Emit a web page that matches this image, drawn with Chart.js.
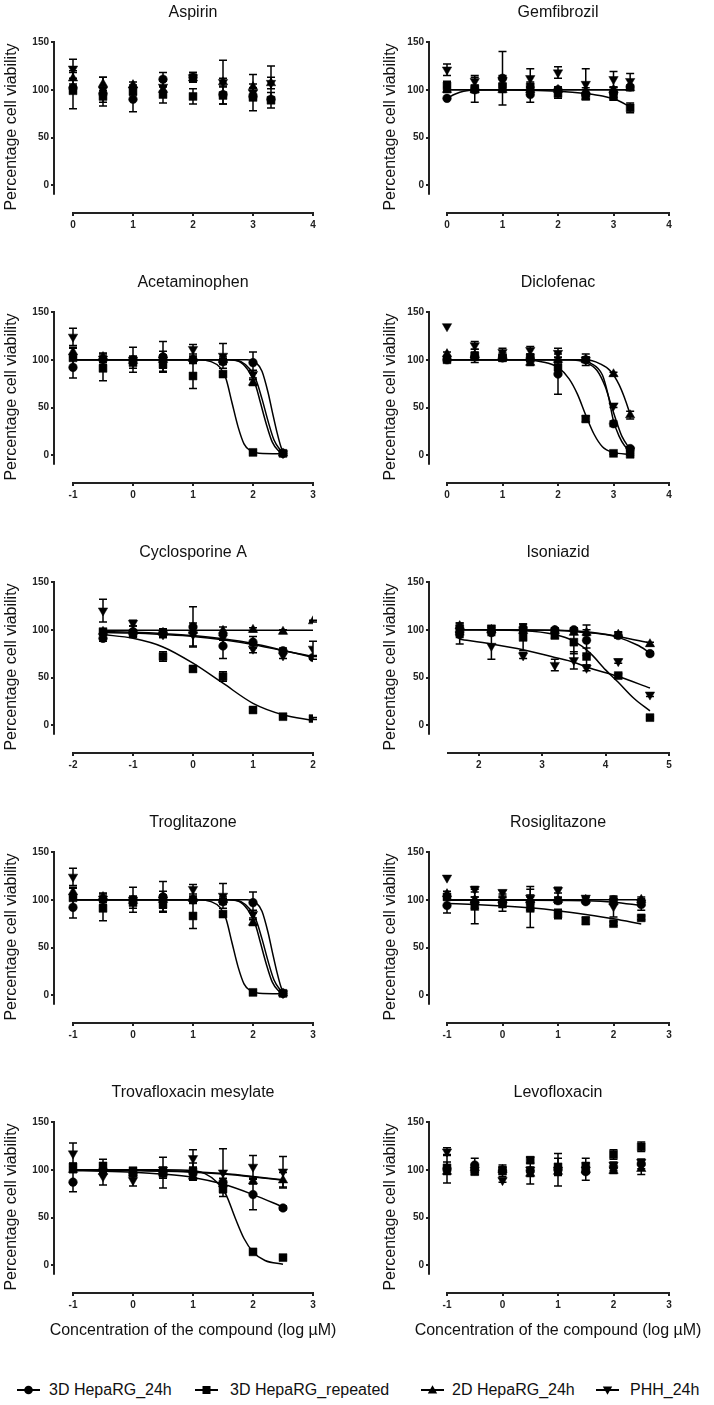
<!DOCTYPE html>
<html>
<head>
<meta charset="utf-8">
<script src="https://cdn.jsdelivr.net/npm/chart.js@4.4.1/dist/chart.umd.min.js"></script>
<style>
  body { margin: 0; background: #fff; width: 714px; height: 1405px; position: relative; overflow: hidden;
         font-family: 'Liberation Sans', Arial, sans-serif; }
  canvas { position: absolute; }
  .legItem { position: absolute; top: 1381px; height: 18px; line-height: 18px; font-size: 16px; color: #111; white-space: nowrap; }
  .legItem svg { position: absolute; left: 0; top: 3px; }
</style>
</head>
<body>
<script>
// series + axis ticks
var seriesNames = ['3D HepaRG_24h', '3D HepaRG_repeated', '2D HepaRG_24h', 'PHH_24h'];
var yTicks = [0, 50, 100, 150];
var xTitle = 'Concentration of the compound (log \u00b5M)';

// Aspirin
var aspDose = [0, 0.5, 1, 1.5, 2, 2.5, 3, 3.3];
var asp3D = [102, 96, 90, 111, 113, 95, 93, 90];
var asp3DSd = [4, 0, 13, 7, 5, 0, 0, 0];
var aspRep = [99, 93, 98, 95, 93, 94, 92, 89];
var aspRepSd = [19, 10, 3, 9, 8, 9, 14, 8];
var asp2D = [112, 106, 105, 100, 112, 108, 103, 107];
var asp2DSd = [8, 7, 3, 3, 4, 23, 13, 6];
var aspPHH = [122, 100, 100, 103, 113, 108, 97, 107];
var aspPHHSd = [10, 13, 5, 6, 5, 4, 5, 18];

// Gemfibrozil
var gemDose = [0, 0.5, 1, 1.5, 2, 2.5, 3, 3.3];
var gem3D = [91, 100, 112, 95, 100, 95, 97, 103];
var gem3DSd = [0, 13, 28, 8, 3, 0, 5, 0];
var gemRep = [104, 101, 103, 103, 96, 93, 93, 81];
var gemRepSd = [5, 4, 4, 5, 5, 3, 4, 5];
var gem2D = [100, 100, 100, 100, 100, 99, 100, 102];
var gem2DSd = [3, 3, 3, 3, 3, 3, 3, 3];
var gemPHH = [121, 109, 110, 112, 118, 106, 111, 109];
var gemPHHSd = [6, 6, 5, 10, 6, 16, 8, 8];
var gemCurve3D = [[0, 91], [0.15, 95.5], [0.3, 98.5], [0.5, 99.7], [1, 100], [3.3, 100]];
var gemCurveRep = [[0, 100], [1.5, 99.5], [2, 98.5], [2.5, 96], [2.8, 93.5], [3.05, 89.5], [3.3, 82]];
var gemCurve2D = [[0, 100], [3.3, 100]];

// Acetaminophen
var acetDose = [-1, -0.5, 0, 0.5, 1, 1.5, 2, 2.5];
var acet3D = [92, 100, 100, 103, 100, 98, 97, 2];
var acet3DSd = [11, 3, 13, 16, 3, 3, 11, 1];
var acetRep = [102, 91, 97, 95, 83, 85, 3, 2];
var acetRepSd = [10, 13, 6, 7, 13, 2, 1, 1];
var acet2D = [108, 103, 99, 100, 101, 100, 76, 2];
var acet2DSd = [5, 3, 3, 5, 3, 3, 3, 1];
var acetPHH = [124, 101, 100, 100, 111, 104, 85, 2];
var acetPHHSd = [9, 6, 4, 9, 5, 13, 4, 1];
var acetCurve3D = [[-1, 100], [1.9, 100], [2.05, 97], [2.15, 88], [2.25, 66], [2.32, 46], [2.4, 24], [2.47, 8], [2.5, 4]];
var acetCurveRep = [[-1, 100], [1.1, 100], [1.3, 98], [1.45, 92], [1.55, 80], [1.65, 55], [1.75, 30], [1.85, 12], [1.95, 5], [2.1, 2], [2.5, 1.5]];
var acetCurve2D = [[-1, 100], [1.6, 100], [1.8, 97], [1.95, 86], [2.05, 72], [2.12, 56], [2.22, 33], [2.32, 14], [2.42, 5], [2.5, 3]];
var acetCurvePHH = [[-1, 100], [1.6, 100], [1.8, 98], [1.95, 90], [2.05, 79], [2.15, 59], [2.25, 36], [2.35, 16], [2.45, 6], [2.5, 3]];

// Diclofenac
var dicDose = [0, 0.5, 1, 1.5, 2, 2.5, 3, 3.3];
var dic3D = [100, 103, 102, 101, 85, 100, 33, 7];
var dic3DSd = [2, 3, 3, 3, 21, 6, 3, 2];
var dicRep = [100, 104, 102, 102, 92, 38, 2, 1];
var dicRepSd = [2, 7, 3, 4, 3, 3, 1, 1];
var dic2D = [106, 105, 104, 97, 100, 100, 85, 42];
var dic2DSd = [2, 3, 3, 3, 3, 3, 2, 4];
var dicPHH = [135, 115, 108, 110, 107, 100, 52, 5];
var dicPHHSd = [0, 4, 4, 4, 5, 3, 2, 1];
var dicCurve3D = [[0, 100], [2.3, 100], [2.6, 96], [2.8, 84], [2.9, 64], [3.0, 36], [3.1, 20], [3.2, 10], [3.3, 5]];
var dicCurveRep = [[0, 100], [1.4, 100], [1.7, 98], [2.0, 92], [2.2, 80], [2.35, 64], [2.5, 42], [2.65, 22], [2.8, 9], [3.0, 3], [3.3, 1]];
var dicCurve2D = [[0, 100], [2.5, 100], [2.75, 96], [2.95, 88], [3.1, 74], [3.2, 60], [3.3, 43]];
var dicCurvePHH = [[0, 100], [2.2, 100], [2.5, 97], [2.7, 89], [2.85, 72], [2.95, 54], [3.05, 36], [3.15, 20], [3.3, 6]];

// Cyclosporine A
var cycDose = [-1.5, -1, -0.5, 0, 0.5, 1, 1.5, 2];
var cyc3D = [91, 98, 96, 103, 83, 87, 78, 71];
var cyc3DSd = [3, 6, 4, 21, 13, 6, 3, 2];
var cycRep = [98, 96, 72, 59, 51, 16, 9, 7];
var cycRepSd = [2, 3, 5, 3, 5, 2, 1, 1];
var cyc2D = [98, 98, 97, 99, 99, 100, 98, 109];
var cyc2DSd = [2, 2, 4, 3, 4, 2, 2, 1];
var cycPHH = [120, 107, 95, 95, 92, 80, 73, 80];
var cycPHHSd = [12, 3, 3, 12, 3, 4, 3, 8];
var cycCurve3D = [[-1.5, 98], [-1, 97.3], [-0.5, 96], [0, 94], [0.5, 90.5], [1, 85.5], [1.5, 78.5], [2, 71]];
var cycCurveRep = [[-1.5, 95], [-1, 91], [-0.5, 82], [0, 65], [0.5, 44], [1, 23], [1.5, 11], [2, 5]];
var cycCurve2D = [[-1.5, 99.5], [2, 99.5]];
var cycCurvePHH = [[-1.5, 97], [-1, 96.5], [-0.5, 95], [0, 93], [0.5, 89.5], [1, 84.5], [1.5, 78], [2, 72]];

// Isoniazid
var isoDose = [1.7, 2.2, 2.7, 3.2, 3.5, 3.7, 4.2, 4.7];
var iso3D = [95, 97, 102, 100, 100, 89, 94, 75];
var iso3DSd = [3, 3, 4, 2, 2, 16, 3, 2];
var isoRep = [101, 101, 92, 94, 87, 72, 52, 8];
var isoRepSd = [6, 3, 14, 3, 12, 9, 2, 1];
var iso2D = [104, 100, 99, 99, 97, 97, 95, 85];
var iso2DSd = [3, 2, 3, 2, 2, 3, 3, 2];
var isoPHH = [95, 83, 73, 63, 68, 60, 67, 32];
var isoPHHSd = [10, 14, 3, 6, 9, 3, 2, 2];
var isoCurve3D = [[1.7, 100], [3.2, 99.5], [3.7, 97], [4.0, 95], [4.2, 92], [4.5, 84], [4.7, 76]];
var isoCurveRep = [[1.7, 100], [2.7, 99], [3.2, 95], [3.5, 88], [3.75, 76], [4.0, 58], [4.2, 45], [4.45, 28], [4.7, 15]];
var isoCurve2D = [[1.7, 100], [3.2, 99.5], [3.7, 98], [4.2, 93], [4.7, 86]];
var isoCurvePHH = [[1.7, 90], [2.2, 85], [2.7, 79], [3.2, 71], [3.5, 66], [3.7, 61], [4.2, 51], [4.7, 39]];

// Troglitazone
var troDose = [-1, -0.5, 0, 0.5, 1, 1.5, 2, 2.5];
var tro3D = [92, 100, 100, 103, 100, 98, 97, 2];
var tro3DSd = [11, 3, 13, 16, 3, 3, 11, 1];
var troRep = [102, 91, 97, 95, 83, 85, 3, 2];
var troRepSd = [10, 13, 6, 7, 13, 2, 1, 1];
var tro2D = [108, 103, 99, 100, 101, 100, 76, 2];
var tro2DSd = [5, 3, 3, 5, 3, 3, 3, 1];
var troPHH = [124, 101, 100, 100, 111, 104, 85, 2];
var troPHHSd = [9, 6, 4, 9, 5, 13, 4, 1];
var troCurve3D = [[-1, 100], [1.9, 100], [2.05, 97], [2.15, 88], [2.25, 66], [2.32, 46], [2.4, 24], [2.47, 8], [2.5, 4]];
var troCurveRep = [[-1, 100], [1.1, 100], [1.3, 98], [1.45, 92], [1.55, 80], [1.65, 55], [1.75, 30], [1.85, 12], [1.95, 5], [2.1, 2], [2.5, 1.5]];
var troCurve2D = [[-1, 100], [1.6, 100], [1.8, 97], [1.95, 86], [2.05, 72], [2.12, 56], [2.22, 33], [2.32, 14], [2.42, 5], [2.5, 3]];
var troCurvePHH = [[-1, 100], [1.6, 100], [1.8, 98], [1.95, 90], [2.05, 79], [2.15, 59], [2.25, 36], [2.35, 16], [2.45, 6], [2.5, 3]];

// Rosiglitazone
var rosDose = [-1, -0.5, 0, 0.5, 1, 1.5, 2, 2.5];
var ros3D = [94, 97, 97, 97, 99, 98, 100, 95];
var ros3DSd = [8, 6, 5, 8, 3, 2, 3, 6];
var rosRep = [103, 93, 96, 91, 85, 78, 75, 81];
var rosRepSd = [3, 18, 8, 20, 5, 4, 2, 2];
var ros2D = [106, 100, 100, 100, 100, 100, 98, 100];
var ros2DSd = [3, 3, 3, 3, 3, 2, 3, 3];
var rosPHH = [123, 111, 108, 102, 110, 102, 93, 97];
var rosPHHSd = [0, 3, 2, 12, 3, 2, 11, 3];
var rosCurve3D = [[-1, 99.5], [0.5, 99.5], [1.5, 99], [2, 97.5], [2.5, 94]];
var rosCurveRep = [[-1, 96], [-0.5, 95], [0, 93.5], [0.5, 91.5], [1, 88.5], [1.5, 84.5], [2, 80], [2.5, 74.5]];
var rosCurve2D = [[-1, 100], [2.5, 100]];

// Trovafloxacin mesylate
var trvDose = [-1, -0.5, 0, 0.5, 1, 1.5, 2, 2.5];
var trv3D = [87, 100, 96, 97, 97, 87, 74, 60];
var trv3DSd = [10, 5, 5, 16, 5, 4, 16, 2];
var trvRep = [103, 104, 99, 96, 98, 80, 14, 8];
var trvRepSd = [4, 7, 3, 5, 9, 4, 1, 1];
var trv2D = [100, 98, 96, 97, 93, 85, 88, 89];
var trv2DSd = [3, 3, 3, 3, 3, 3, 3, 8];
var trvPHH = [117, 93, 89, 100, 112, 97, 103, 98];
var trvPHHSd = [11, 9, 6, 3, 9, 25, 12, 16];
var trvCurve3D = [[-1, 99], [-0.5, 98.5], [0, 97.5], [0.5, 95.5], [1, 92], [1.5, 85], [2, 74], [2.5, 61]];
var trvCurveRep = [[-1, 100], [0.5, 100], [1, 99], [1.2, 96], [1.4, 87], [1.55, 74], [1.7, 50], [1.85, 28], [2, 14], [2.2, 5], [2.5, 1]];
var trvCurve2D = [[-1, 99.5], [0, 99], [1, 97.5], [1.5, 95.5], [2, 92.5], [2.5, 89]];
var trvCurvePHH = [[-1, 100], [0, 99.5], [1, 98], [1.5, 96], [2, 93], [2.5, 89.5]];

// Levofloxacin
var levDose = [-1, -0.5, 0, 0.5, 1, 1.5, 2, 2.5];
var lev3D = [101, 105, 99, 99, 100, 98, 103, 106];
var lev3DSd = [15, 7, 4, 14, 17, 9, 4, 5];
var levRep = [102, 98, 99, 110, 103, 104, 116, 124];
var levRepSd = [6, 3, 6, 3, 9, 8, 5, 5];
var lev2D = [98, 102, 100, 96, 98, 100, 99, 101];
var lev2DSd = [3, 3, 3, 3, 3, 3, 3, 6];
var levPHH = [119, 100, 89, 100, 100, 100, 105, 108];
var levPHHSd = [4, 3, 2, 3, 3, 3, 3, 3];

var panels = [
  { title: 'Aspirin', row: 0, col: 0, xStart: 0, xEnd: 4, xTicks: [0, 1, 2, 3, 4], dose: aspDose,
    values: [asp3D, aspRep, asp2D, aspPHH], sds: [asp3DSd, aspRepSd, asp2DSd, aspPHHSd], curves: [] },
  { title: 'Gemfibrozil', row: 0, col: 1, xStart: 0, xEnd: 4, xTicks: [0, 1, 2, 3, 4], dose: gemDose,
    values: [gem3D, gemRep, gem2D, gemPHH], sds: [gem3DSd, gemRepSd, gem2DSd, gemPHHSd], curves: [gemCurve3D, gemCurveRep, gemCurve2D] },
  { title: 'Acetaminophen', row: 1, col: 0, xStart: -1, xEnd: 3, xTicks: [-1, 0, 1, 2, 3], dose: acetDose,
    values: [acet3D, acetRep, acet2D, acetPHH], sds: [acet3DSd, acetRepSd, acet2DSd, acetPHHSd], curves: [acetCurve3D, acetCurveRep, acetCurve2D, acetCurvePHH] },
  { title: 'Diclofenac', row: 1, col: 1, xStart: 0, xEnd: 4, xTicks: [0, 1, 2, 3, 4], dose: dicDose,
    values: [dic3D, dicRep, dic2D, dicPHH], sds: [dic3DSd, dicRepSd, dic2DSd, dicPHHSd], curves: [dicCurve3D, dicCurveRep, dicCurve2D, dicCurvePHH] },
  { title: 'Cyclosporine A', row: 2, col: 0, xStart: -2, xEnd: 2, xTicks: [-2, -1, 0, 1, 2], dose: cycDose,
    values: [cyc3D, cycRep, cyc2D, cycPHH], sds: [cyc3DSd, cycRepSd, cyc2DSd, cycPHHSd], curves: [cycCurve3D, cycCurveRep, cycCurve2D, cycCurvePHH] },
  { title: 'Isoniazid', row: 2, col: 1, xStart: 1.5, xEnd: 5, xTicks: [2, 3, 4, 5], dose: isoDose,
    values: [iso3D, isoRep, iso2D, isoPHH], sds: [iso3DSd, isoRepSd, iso2DSd, isoPHHSd], curves: [isoCurve3D, isoCurveRep, isoCurve2D, isoCurvePHH] },
  { title: 'Troglitazone', row: 3, col: 0, xStart: -1, xEnd: 3, xTicks: [-1, 0, 1, 2, 3], dose: troDose,
    values: [tro3D, troRep, tro2D, troPHH], sds: [tro3DSd, troRepSd, tro2DSd, troPHHSd], curves: [troCurve3D, troCurveRep, troCurve2D, troCurvePHH] },
  { title: 'Rosiglitazone', row: 3, col: 1, xStart: -1, xEnd: 3, xTicks: [-1, 0, 1, 2, 3], dose: rosDose,
    values: [ros3D, rosRep, ros2D, rosPHH], sds: [ros3DSd, rosRepSd, ros2DSd, rosPHHSd], curves: [rosCurve3D, rosCurveRep, rosCurve2D] },
  { title: 'Trovafloxacin mesylate', row: 4, col: 0, xStart: -1, xEnd: 3, xTicks: [-1, 0, 1, 2, 3], dose: trvDose,
    values: [trv3D, trvRep, trv2D, trvPHH], sds: [trv3DSd, trvRepSd, trv2DSd, trvPHHSd], curves: [trvCurve3D, trvCurveRep, trvCurve2D, trvCurvePHH], xLabel: true },
  { title: 'Levofloxacin', row: 4, col: 1, xStart: -1, xEnd: 3, xTicks: [-1, 0, 1, 2, 3], dose: levDose,
    values: [lev3D, levRep, lev2D, levPHH], sds: [lev3DSd, levRepSd, lev2DSd, levPHHSd], curves: [], xLabel: true }
];

var FONT = "'Liberation Sans', Arial, sans-serif";
Chart.defaults.font.family = FONT;
Chart.defaults.color = '#111';

var markerStyle = ['circle', 'rect', 'triangle', 'triangle'];
var markerRot = [0, 0, 0, 180];
var markerSize = [4.3, 5.6, 5.4, 5.4];
var axisColor = '#222';

// error bars (mean +/- SD) drawn under the markers
var errorBars = {
  id: 'errorBars',
  beforeDatasetsDraw: function (chart) {
    var ctx = chart.ctx, xs = chart.scales.x, ys = chart.scales.y;
    ctx.save();
    ctx.strokeStyle = '#000';
    ctx.lineWidth = 1.5;
    chart.data.datasets.forEach(function (ds) {
      if (!ds.sd) return;
      ds.data.forEach(function (pt, i) {
        var e = ds.sd[i];
        if (!e) return;
        var x = xs.getPixelForValue(pt.x);
        var y1 = ys.getPixelForValue(pt.y + e), y2 = ys.getPixelForValue(pt.y - e);
        ctx.beginPath();
        ctx.moveTo(x, y1); ctx.lineTo(x, y2);
        ctx.moveTo(x - 4, y1); ctx.lineTo(x + 4, y1);
        ctx.moveTo(x - 4, y2); ctx.lineTo(x + 4, y2);
        ctx.stroke();
      });
    });
    ctx.restore();
  }
};

// Prism-like detached axes + panel titles
var prismAxes = {
  id: 'prismAxes',
  afterDraw: function (chart) {
    var p = chart.options.panel;
    var ctx = chart.ctx, xs = chart.scales.x, ys = chart.scales.y, a = chart.chartArea;
    ctx.save();
    ctx.strokeStyle = axisColor;
    ctx.lineWidth = 2;
    ctx.beginPath();
    ctx.moveTo(a.left - 1, ys.getPixelForValue(150));
    ctx.lineTo(a.left - 1, ys.getPixelForValue(-10));
    ctx.moveTo(xs.getPixelForValue(p.xStart), a.bottom + 1);
    ctx.lineTo(xs.getPixelForValue(p.xEnd), a.bottom + 1);
    ctx.stroke();
    var cx = (xs.getPixelForValue(p.xStart) + xs.getPixelForValue(p.xEnd)) / 2;
    ctx.fillStyle = '#111';
    ctx.textAlign = 'center';
    ctx.font = '16px ' + FONT;
    ctx.textBaseline = 'middle';
    ctx.fillText(p.title, cx, 13);
    if (p.xLabel) {
      ctx.textBaseline = 'alphabetic';
      ctx.fillText(xTitle, cx, 255);
    }
    ctx.restore();
  }
};

panels.forEach(function (p) {
  var canvas = document.createElement('canvas');
  canvas.width = 357;
  canvas.height = 270;
  canvas.style.left = (p.col * 357) + 'px';
  canvas.style.top = (p.row * 270) + 'px';
  document.body.appendChild(canvas);

  var gap = p.col === 0 ? 18 / 240 : 17 / 222;
  var xMin = p.xStart - (p.xEnd - p.xStart) * gap;
  var datasets = [];
  p.curves.forEach(function (c) {
    datasets.push({
      data: c.map(function (pt) { return { x: pt[0], y: pt[1] }; }),
      showLine: true, borderColor: '#000', borderWidth: 1.5,
      pointRadius: 0, cubicInterpolationMode: 'monotone', fill: false
    });
  });
  p.values.forEach(function (vals, s) {
    datasets.push({
      label: seriesNames[s],
      data: p.dose.map(function (d, i) { return { x: d, y: vals[i] }; }),
      sd: p.sds[s],
      pointStyle: markerStyle[s], pointRotation: markerRot[s], pointRadius: markerSize[s],
      pointBackgroundColor: '#000', pointBorderColor: '#000', pointBorderWidth: 0.5
    });
  });

  new Chart(canvas, {
    type: 'scatter',
    data: { datasets: datasets },
    options: {
      panel: p,
      responsive: false,
      animation: false,
      devicePixelRatio: 1,
      layout: { padding: { left: p.col === 0 ? 0 : 22, right: p.col === 0 ? 44 : 45, top: 42, bottom: 0 } },
      plugins: { legend: { display: false }, tooltip: { enabled: false } },
      scales: {
        x: {
          type: 'linear', min: xMin, max: p.xEnd,
          afterBuildTicks: function (s) { s.ticks = p.xTicks.map(function (v) { return { value: v }; }); },
          afterFit: function (s) { s.height = 58; },
          border: { display: false },
          grid: { drawOnChartArea: false, drawTicks: true, tickLength: 4, color: axisColor, lineWidth: 2 },
          ticks: { font: { size: 10, weight: 'bold' }, color: '#222', padding: 3, maxRotation: 0 }
        },
        y: {
          type: 'linear', min: -28, max: 150,
          afterBuildTicks: function (s) { s.ticks = yTicks.map(function (v) { return { value: v }; }); },
          afterFit: function (s) { s.width = p.col === 0 ? 55 : 51; },
          border: { display: false },
          grid: { drawOnChartArea: false, drawTicks: true, tickLength: 4, color: axisColor, lineWidth: 2 },
          ticks: { font: { size: 10, weight: 'bold' }, color: '#222', padding: 2 },
          title: { display: true, text: 'Percentage cell viability', font: { size: 16 }, color: '#111', padding: { top: 1.5, bottom: 0 } }
        }
      }
    },
    plugins: [errorBars, prismAxes]
  });
});

// legend row
var legendX = [17, 195, 421, 596];
var legendTextX = [32, 35, 31, 34];
var legendShapes = [
  '<circle cx="11.5" cy="6" r="4.3" fill="#000"/>',
  '<rect x="7.5" y="2" width="8" height="8" fill="#000"/>',
  '<polygon points="11.5,1.3 16.2,9.5 6.8,9.5" fill="#000"/>',
  '<polygon points="11.5,10.7 16.2,2.5 6.8,2.5" fill="#000"/>'
];
seriesNames.forEach(function (name, i) {
  var d = document.createElement('div');
  d.className = 'legItem';
  d.style.left = legendX[i] + 'px';
  d.innerHTML = '<svg width="24" height="12"><line x1="0" y1="6" x2="23" y2="6" stroke="#000" stroke-width="2"/>' +
    legendShapes[i] + '</svg><span style="padding-left:' + legendTextX[i] + 'px">' + name + '</span>';
  document.body.appendChild(d);
});
</script>
</body>
</html>
